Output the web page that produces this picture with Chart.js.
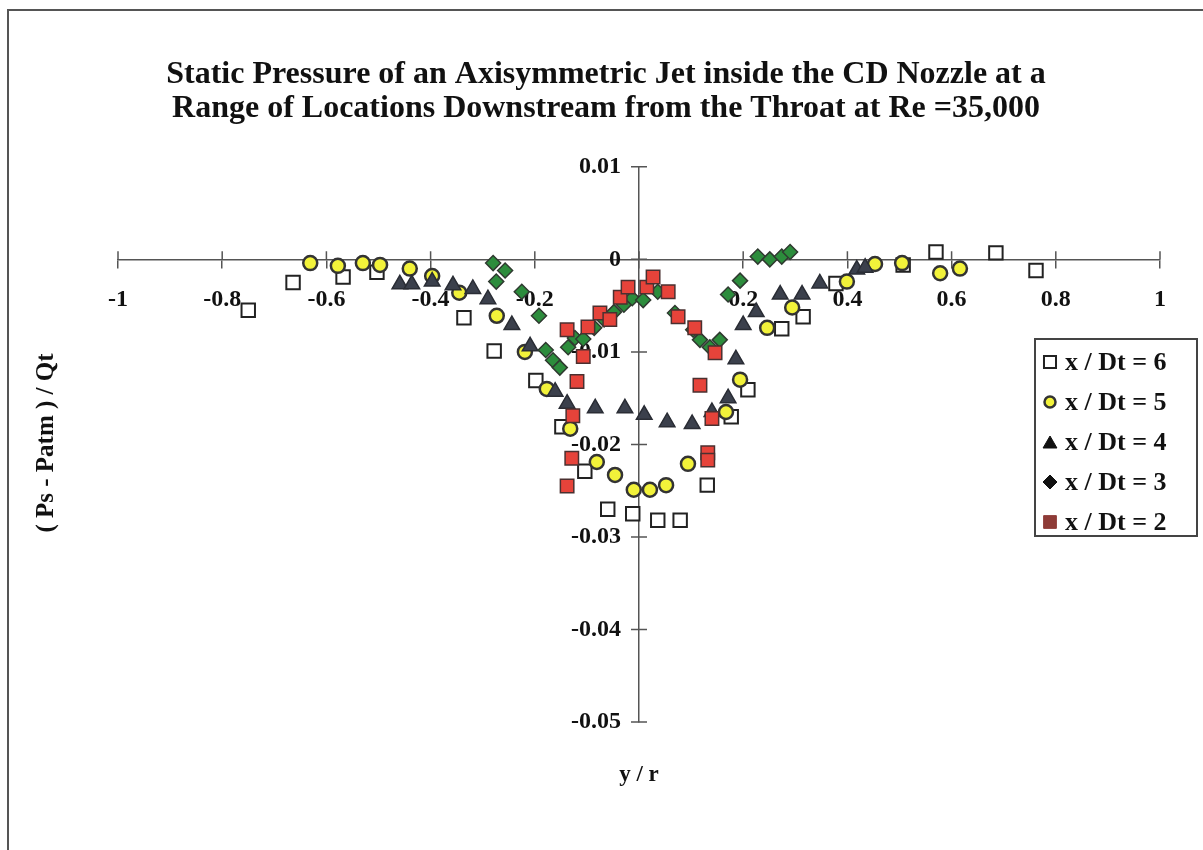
<!DOCTYPE html>
<html>
<head>
<meta charset="utf-8">
<script src="https://cdn.jsdelivr.net/npm/chart.js@4.4.0/dist/chart.umd.min.js"></script>
<style>
html,body{margin:0;padding:0;background:#fff;}
#wrap{position:relative;width:1203px;height:850px;}
</style>
</head>
<body>
<div id="wrap"><canvas id="c" width="1203" height="850"></canvas></div>
<script>
const titleLines = ['Static Pressure of an Axisymmetric Jet inside the CD Nozzle at a', 'Range of Locations Downstream from the Throat at Re =35,000'];
const xAxisTitle = 'y / r';
const yAxisTitle = '( Ps - Patm ) / Qt';
const seriesNames = ['x / Dt = 6', 'x / Dt = 5', 'x / Dt = 4', 'x / Dt = 3', 'x / Dt = 2'];
const xTickLabels = ['-1', '-0.8', '-0.6', '-0.4', '-0.2', '', '0.2', '0.4', '0.6', '0.8', '1'];
const yTickLabels = ['-0.05', '-0.04', '-0.03', '-0.02', '-0.01', '0', '0.01'];

const dt6X = [-0.750, -0.664, -0.568, -0.503, -0.336, -0.278, -0.198, -0.148, -0.104, -0.060, -0.012, 0.036, 0.079, 0.131, 0.177, 0.209, 0.274, 0.315, 0.378, 0.507, 0.570, 0.685, 0.762];
const dt6Y = [-0.0055, -0.0025, -0.0019, -0.0014, -0.0063, -0.0099, -0.0131, -0.0181, -0.0229, -0.0270, -0.0275, -0.0282, -0.0282, -0.0244, -0.0170, -0.0141, -0.0075, -0.0062, -0.0026, -0.0006, 0.0008, 0.0007, -0.0012];

const dt5X = [-0.631, -0.578, -0.530, -0.497, -0.440, -0.397, -0.345, -0.273, -0.219, -0.177, -0.132, -0.081, -0.046, -0.010, 0.021, 0.052, 0.094, 0.167, 0.194, 0.246, 0.294, 0.399, 0.453, 0.505, 0.578, 0.616];
const dt5Y = [-0.0004, -0.0007, -0.0004, -0.0006, -0.0010, -0.0018, -0.0036, -0.0061, -0.0100, -0.0140, -0.0183, -0.0219, -0.0233, -0.0249, -0.0249, -0.0244, -0.0221, -0.0165, -0.0130, -0.0074, -0.0052, -0.0024, -0.0005, -0.0004, -0.0015, -0.0010];

const dt4X = [-0.459, -0.436, -0.397, -0.357, -0.319, -0.290, -0.244, -0.209, -0.161, -0.138, -0.084, -0.027, 0.010, 0.054, 0.102, 0.140, 0.171, 0.186, 0.200, 0.225, 0.271, 0.313, 0.347, 0.418, 0.434];
const dt4Y = [-0.0027, -0.0027, -0.0024, -0.0028, -0.0032, -0.0043, -0.0071, -0.0094, -0.0143, -0.0156, -0.0161, -0.0161, -0.0168, -0.0176, -0.0178, -0.0165, -0.0150, -0.0108, -0.0071, -0.0057, -0.0038, -0.0038, -0.0026, -0.0011, -0.0009];

const dt3X = [-0.280, -0.257, -0.274, -0.225, -0.192, -0.179, -0.165, -0.152, -0.136, -0.123, -0.107, -0.086, -0.067, -0.048, -0.029, -0.013, 0.008, 0.036, 0.069, 0.104, 0.117, 0.136, 0.155, 0.171, 0.194, 0.228, 0.251, 0.274, 0.290];
const dt3Y = [-0.0004, -0.0012, -0.0024, -0.0035, -0.0061, -0.0098, -0.0109, -0.0117, -0.0095, -0.0085, -0.0086, -0.0074, -0.0065, -0.0057, -0.0049, -0.0042, -0.0044, -0.0035, -0.0058, -0.0076, -0.0087, -0.0095, -0.0087, -0.0038, -0.0023, 0.0003, 0.0000, 0.0003, 0.0008];

const dt2X = [-0.138, -0.129, -0.127, -0.119, -0.107, -0.138, -0.098, -0.075, -0.056, -0.036, -0.021, 0.015, 0.027, 0.056, 0.075, 0.107, 0.146, 0.117, 0.140, 0.132, 0.132];
const dt2Y = [-0.0245, -0.0215, -0.0169, -0.0132, -0.0105, -0.0076, -0.0073, -0.0058, -0.0065, -0.0041, -0.0030, -0.0030, -0.0019, -0.0035, -0.0062, -0.0074, -0.0101, -0.0136, -0.0172, -0.0209, -0.0217];

function pts(xs, ys) { return xs.map((x, i) => ({x: x, y: ys[i]})); }

const FONT = "'Liberation Serif', 'Times New Roman', serif";

const legendStyles = [
  {style: 'rect', fill: '#ffffff', stroke: '#222', lw: 2, r: 8.5},
  {style: 'circle', fill: '#f2f23a', stroke: '#333', lw: 2.5, r: 5.5},
  {style: 'triangle', fill: '#111', stroke: '#111', lw: 1, r: 8},
  {style: 'rectRot', fill: '#111', stroke: '#111', lw: 1, r: 7},
  {style: 'rect', fill: '#8e3b37', stroke: '#8e3b37', lw: 1, r: 9}
];

const decor = {
  id: 'decor',
  beforeDraw(chart) {
    const ctx = chart.ctx;
    ctx.save();
    ctx.strokeStyle = '#555';
    ctx.lineWidth = 2;
    ctx.beginPath();
    ctx.moveTo(8, 850);
    ctx.lineTo(8, 10);
    ctx.lineTo(1203, 10);
    ctx.stroke();
    ctx.restore();
  },
  afterDatasetsDraw(chart) {
    const ctx = chart.ctx;
    const xs = chart.scales.x, ys = chart.scales.y;
    const x0 = xs.getPixelForValue(0), y0 = ys.getPixelForValue(0);
    ctx.save();
    // crossing tick marks
    ctx.strokeStyle = '#555';
    ctx.lineWidth = 1.5;
    ctx.beginPath();
    xs.ticks.forEach(t => { const p = xs.getPixelForValue(t.value); ctx.moveTo(p, y0 - 8); ctx.lineTo(p, y0); });
    ys.ticks.forEach(t => { const p = ys.getPixelForValue(t.value); ctx.moveTo(x0 - 8, p); ctx.lineTo(x0 + 8, p); });
    ctx.stroke();
    // axis titles
    ctx.fillStyle = '#111';
    ctx.textAlign = 'center';
    ctx.textBaseline = 'middle';
    ctx.font = 'bold 23px ' + FONT;
    ctx.fillText(xAxisTitle, x0, 775);
    ctx.font = 'bold 25px ' + FONT;
    ctx.translate(47, 443);
    ctx.rotate(-Math.PI / 2);
    ctx.fillText(yAxisTitle, 0, 0);
    ctx.restore();
    // legend
    ctx.save();
    ctx.fillStyle = '#fff';
    ctx.fillRect(1035, 339, 162, 197);
    ctx.strokeStyle = '#444';
    ctx.lineWidth = 2;
    ctx.strokeRect(1035, 339, 162, 197);
    ctx.font = 'bold 26px ' + FONT;
    ctx.textAlign = 'left';
    ctx.textBaseline = 'middle';
    chart.data.datasets.forEach((ds, i) => {
      const yc = 362 + i * 40;
      const st = legendStyles[i];
      ctx.fillStyle = st.fill;
      ctx.strokeStyle = st.stroke;
      ctx.lineWidth = st.lw;
      Chart.helpers.drawPoint(ctx, {pointStyle: st.style, radius: st.r, rotation: 0, borderWidth: st.lw}, 1050, yc + (st.style === 'triangle' ? 2 : 0));
      ctx.fillStyle = '#111';
      ctx.fillText(ds.label, 1065, yc + 1);
    });
    ctx.restore();
  }
};

const tickFont = {family: FONT, size: 24, weight: 'bold'};

new Chart(document.getElementById('c'), {
  type: 'scatter',
  data: {
    datasets: [
      {label: seriesNames[0], data: pts(dt6X, dt6Y), xAxisID: 'x', yAxisID: 'y', pointStyle: 'rect', pointRadius: 9.5, backgroundColor: '#ffffff', borderColor: '#222', borderWidth: 2, order: 5},
      {label: seriesNames[1], data: pts(dt5X, dt5Y), xAxisID: 'x', yAxisID: 'y', pointStyle: 'circle', pointRadius: 7, backgroundColor: '#f2f23a', borderColor: '#333', borderWidth: 2.5, order: 4},
      {label: seriesNames[2], data: pts(dt4X, dt4Y), xAxisID: 'x', yAxisID: 'y', pointStyle: 'triangle', pointRadius: 9, backgroundColor: '#3b404c', borderColor: '#2a2d35', borderWidth: 1.5, order: 3},
      {label: seriesNames[3], data: pts(dt3X, dt3Y), xAxisID: 'x', yAxisID: 'y', pointStyle: 'rectRot', pointRadius: 7.5, backgroundColor: '#2c8c3c', borderColor: '#2f3a30', borderWidth: 1.5, order: 2},
      {label: seriesNames[4], data: pts(dt2X, dt2Y), xAxisID: 'x', yAxisID: 'y', pointStyle: 'rect', pointRadius: 9.5, backgroundColor: '#e6433a', borderColor: '#4a3030', borderWidth: 1.5, order: 1}
    ]
  },
  options: {
    responsive: false,
    animation: false,
    devicePixelRatio: 1,
    layout: {padding: {left: 52, right: 43, top: 0, bottom: 128}},
    plugins: {
      legend: {display: false},
      tooltip: {enabled: false},
      title: {
        display: true,
        text: titleLines,
        color: '#111',
        font: {family: FONT, size: 32, weight: 'bold', lineHeight: 1.06},
        padding: {top: 58, bottom: 41}
      }
    },
    scales: {
      x: {
        type: 'linear',
        position: {y: 0},
        min: -1, max: 1,
        grid: {drawOnChartArea: false, drawTicks: true, tickLength: 8, color: '#555', lineWidth: 1.5},
        border: {display: true, color: '#555', width: 1.5},
        ticks: {stepSize: 0.2, autoSkip: false, maxRotation: 0, padding: 18, color: '#111', font: tickFont,
          callback: (v, i) => xTickLabels[i]}
      },
      y: {
        type: 'linear',
        position: {x: 0},
        min: -0.05, max: 0.01,
        grid: {drawOnChartArea: false, drawTicks: true, tickLength: 8, color: 'rgba(0,0,0,0)', lineWidth: 1.5},
        border: {display: true, color: '#555', width: 1.5},
        ticks: {stepSize: 0.01, autoSkip: false, padding: 0, color: '#111', font: tickFont,
          callback: (v, i) => yTickLabels[i] + '\u00a0\u00a0\u00a0'}
      },
      spacer: {
        type: 'linear',
        axis: 'y',
        position: 'left',
        min: 0, max: 1,
        display: true,
        grid: {display: false, drawTicks: false},
        border: {display: false},
        ticks: {display: false},
        afterFit: (s) => { s.width = 66; }
      }
    }
  },
  plugins: [decor]
});
</script>
</body>
</html>
